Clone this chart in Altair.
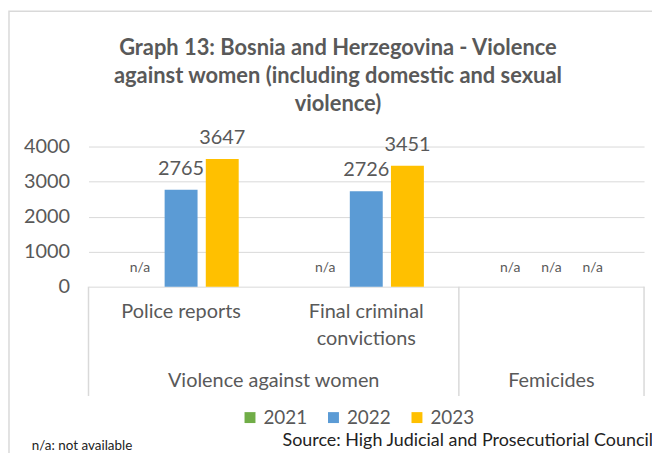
import altair as alt
import pandas as pd

# ---- data ----
categories = ["Police reports", "Final criminal convictions", "Femicides"]
category_labels = ["Police reports", "Final criminal\nconvictions", ""]
years = ["2021", "2022", "2023"]
values_2021 = [None, None, None]
values_2022 = [2765, 2726, None]
values_2023 = [3647, 3451, None]
groups = ["Violence against women", "Femicides"]
group_anchor = ["Police reports", "Femicides"]  # category whose band locates the group label
y_ticks = [0, 1000, 2000, 3000, 4000]
colors = ["#70AD47", "#5B9BD5", "#FFC000"]
title_lines = [
    "Graph 13: Bosnia and Herzegovina - Violence",
    "against women (including domestic and sexual",
    "violence)",
]
footnote = "n/a: not available"
source = "Source: High Judicial and Prosecutiorial Council"

rows = []
for i, cat in enumerate(categories):
    for year, vals in zip(years, [values_2021, values_2022, values_2023]):
        rows.append({"category": cat, "year": year, "value": vals[i]})
df = pd.DataFrame(rows)

FONT = "Lato"
GRAY = "#595959"
FS = 20

xscale = alt.Scale(domain=categories, paddingInner=0, paddingOuter=0)
xoff = alt.XOffset("year:N", scale=alt.Scale(domain=years, paddingInner=0.2, paddingOuter=0.85))
yscale = alt.Scale(domain=[0, 4000], nice=False)
yaxis = alt.Axis(values=y_ticks, tickCount=5, format="d", labelOverlap=False,
                 grid=True, gridColor="#D9D9D9", domain=False,
                 ticks=False, labelPadding=19, labelFontSize=FS, labelColor=GRAY,
                 labelFont=FONT, title=None)

bars = alt.Chart(df).mark_bar().encode(
    x=alt.X("category:N", scale=xscale, axis=None),
    xOffset=xoff,
    y=alt.Y("value:Q", scale=yscale, axis=yaxis),
    color=alt.Color("year:N", scale=alt.Scale(domain=years, range=colors),
                    legend=alt.Legend(orient="none", direction="horizontal", title=None,
                                      legendX=153, legendY=263, symbolType="square",
                                      symbolSize=121, symbolStrokeWidth=0,
                                      labelFontSize=19, labelColor=GRAY, labelFont=FONT,
                                      columnPadding=16, labelOffset=4, padding=0)),
)

val_labels = alt.Chart(df).transform_filter("isValid(datum.value)").mark_text(
    baseline="alphabetic", dy=-15, fontSize=FS, color=GRAY, font=FONT
).encode(
    x=alt.X("category:N", scale=xscale, axis=None),
    xOffset=xoff,
    y=alt.Y("value:Q", scale=yscale, axis=yaxis),
    text=alt.Text("value:Q", format="d"),
)

na_labels = alt.Chart(df).transform_filter("!isValid(datum.value)").transform_calculate(
    value="0", na="'n/a'"
).mark_text(baseline="alphabetic", dy=-15, fontSize=14, color=GRAY, font=FONT).encode(
    x=alt.X("category:N", scale=xscale, axis=None),
    xOffset=xoff,
    y=alt.Y("value:Q", scale=yscale, axis=yaxis),
    text="na:N",
)

cat_df = pd.DataFrame({"category": categories, "label": category_labels})
cat_text = alt.Chart(cat_df).mark_text(
    baseline="alphabetic", fontSize=FS, color=GRAY, font=FONT, lineBreak="\n", lineHeight=27
).encode(
    x=alt.X("category:N", scale=xscale, axis=None),
    y=alt.value(173),
    text="label:N",
)

grp_df = pd.DataFrame({"group": groups, "anchor": group_anchor})
grp1 = alt.Chart(grp_df).transform_filter(alt.datum.group == groups[0]).mark_text(
    baseline="alphabetic", fontSize=FS, color=GRAY, font=FONT
).encode(
    x=alt.X("anchor:N", scale=xscale, axis=None, bandPosition=1),
    y=alt.value(242),
    text="group:N",
)
grp2 = alt.Chart(grp_df).transform_filter(alt.datum.group == groups[1]).mark_text(
    baseline="alphabetic", fontSize=FS, color=GRAY, font=FONT
).encode(
    x=alt.X("anchor:N", scale=xscale, axis=None, bandPosition=0.5),
    y=alt.value(242),
    text="group:N",
)

sep_df = pd.DataFrame({"edge": [categories[0], categories[2]]})
sep_left = alt.Chart(sep_df).mark_rule(color="#D9D9D9", strokeWidth=1.5).encode(
    x=alt.X("edge:N", scale=xscale, axis=None, bandPosition=0),
    y=alt.value(141), y2=alt.value(251),
)
sep_right = alt.Chart(pd.DataFrame({"edge": [categories[2]]})).mark_rule(
    color="#D9D9D9", strokeWidth=1.5
).encode(
    x=alt.X("edge:N", scale=xscale, axis=None, bandPosition=1),
    y=alt.value(141), y2=alt.value(251),
)

one = pd.DataFrame({"k": [0]})
frame = alt.Chart(one).mark_rect(fill=None, stroke="#D9D9D9", strokeWidth=1.5).encode(
    x=alt.value(-80), x2=alt.value(700), y=alt.value(-136), y2=alt.value(400)
)

title = alt.Chart(one).mark_text(
    baseline="middle", align="center", fontSize=22, fontWeight="bold", color=GRAY,
    font=FONT, lineHeight=28
).encode(x=alt.value(251), y=alt.value(-99), text=alt.value(title_lines))

foot = alt.Chart(one).mark_text(
    baseline="alphabetic", align="left", fontSize=13.5, color="#222222", font=FONT
).encode(x=alt.value(32 - 89), y=alt.value(305), text=alt.value(footnote))

src = alt.Chart(one).mark_text(
    baseline="alphabetic", align="right", fontSize=18, color="#222222", font=FONT
).encode(x=alt.value(657 - 89), y=alt.value(301), text=alt.value(source))

chart = alt.layer(
    frame, bars, val_labels, na_labels, sep_left, sep_right, cat_text, grp1, grp2,
    title, foot, src
).properties(
    width=559, height=141,
    autosize=alt.AutoSizeParams(type="none"),
    padding={"left": 81, "top": 138, "right": 8, "bottom": 166},
    background="white",
).configure_view(stroke=None)

chart.save("out.html", embed_options={"renderer": "svg", "actions": False})
